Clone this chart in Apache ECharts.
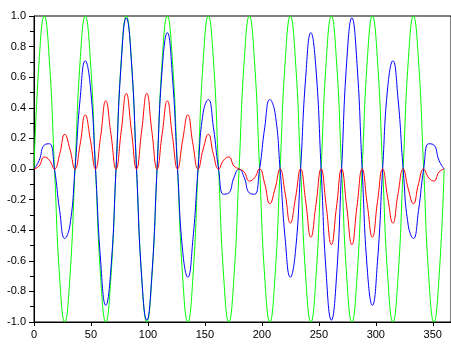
<!DOCTYPE html>
<html>
<head>
<meta charset="utf-8">
<script src="https://cdn.jsdelivr.net/npm/echarts@6/dist/echarts.min.js"></script>
<style>
html,body{margin:0;padding:0;background:#fff;}
#chart{width:451px;height:353px;}
</style>
</head>
<body>
<div id="chart"></div>
<script>
var xValues = [0,4.5,9,13.5,18,22.5,27,31.5,36,40.5,45,49.5,54,58.5,63,67.5,72,76.5,81,85.5,90,94.5,99,103.5,108,112.5,117,121.5,126,130.5,135,139.5,144,148.5,153,157.5,162,166.5,171,175.5,180,184.5,189,193.5,198,202.5,207,211.5,216,220.5,225,229.5,234,238.5,243,247.5,252,256.5,261,265.5,270,274.5,279,283.5,288,292.5,297,301.5,306,310.5,315,319.5,324,328.5,333,337.5,342,346.5,351,355.5,360];

var greenValues = [
0,0.707,1,0.707,0,-0.707,-1,-0.707,
0,0.707,1,0.707,0,-0.707,-1,-0.707,
0,0.707,1,0.707,0,-0.707,-1,-0.707,
0,0.707,1,0.707,0,-0.707,-1,-0.707,
0,0.707,1,0.707,0,-0.707,-1,-0.707,
0,0.707,1,0.707,0,-0.707,-1,-0.707,
0,0.707,1,0.707,0,-0.707,-1,-0.707,
0,0.707,1,0.707,0,-0.707,-1,-0.707,
0,0.707,1,0.707,0,-0.707,-1,-0.707,
0,0.707,1,0.707,0,-0.707,-1,-0.707,
0];

var blueValues = [
0,0.0555,0.1564,0.1650,0,-0.2706,-0.4540,-0.3694,
0,0.4592,0.7071,0.5376,0,-0.6028,-0.8910,-0.6532,
0,0.6875,0.9877,0.7048,0,-0.7048,-0.9877,-0.6875,
0,0.6532,0.8910,0.6028,0,-0.5376,-0.7071,-0.4592,
0,0.3694,0.4540,0.2706,0,-0.1650,-0.1564,-0.0555,
0,-0.0555,-0.1564,-0.1650,0,0.2706,0.4540,0.3694,
0,-0.4592,-0.7071,-0.5376,0,0.6028,0.8910,0.6532,
0,-0.6875,-0.9877,-0.7048,0,0.7048,0.9877,0.6875,
0,-0.6532,-0.8910,-0.6028,0,0.5376,0.7071,0.4592,
0,-0.3694,-0.4540,-0.2706,0,0.1650,0.1564,0.0555,
0];

var redValues = [
0,0.0196,0.0782,0.0584,0,0.0957,0.2270,0.1306,
0,0.1624,0.3536,0.1901,0,0.2132,0.4455,0.2310,
0,0.2431,0.4939,0.2492,0,0.2492,0.4939,0.2431,
0,0.2310,0.4455,0.2132,0,0.1901,0.3536,0.1624,
0,0.1306,0.2270,0.0957,0,0.0584,0.0782,0.0196,
0,-0.0196,-0.0782,-0.0584,0,-0.0957,-0.2270,-0.1306,
0,-0.1624,-0.3536,-0.1901,0,-0.2132,-0.4455,-0.2310,
0,-0.2431,-0.4939,-0.2492,0,-0.2492,-0.4939,-0.2431,
0,-0.2310,-0.4455,-0.2132,0,-0.1901,-0.3536,-0.1624,
0,-0.1306,-0.2270,-0.0957,0,-0.0584,-0.0782,-0.0196,
0];

function pairs(ys){ return xValues.map(function(x,i){ return [x, ys[i]]; }); }

var chart = echarts.init(document.getElementById('chart'), null, {renderer:'canvas'});
var labelFont = {color:'#000', fontFamily:'Liberation Sans, Arial, sans-serif', fontSize:11};
chart.setOption({
  animation:false,
  backgroundColor:'#fff',
  grid:{left:34, right:-2, top:16, bottom:31, containLabel:false, show:true, borderColor:'#000', borderWidth:1, backgroundColor:'transparent'},
  xAxis:{
    type:'value', min:0, max:366, interval:50,
    axisLine:{show:true, onZero:false, lineStyle:{color:'#000', width:1}},
    axisTick:{show:true, inside:false, length:4, lineStyle:{color:'#000'}},
    minorTick:{show:false},
    splitLine:{show:false},
    axisLabel:Object.assign({margin:7, showMaxLabel:false}, labelFont)
  },
  yAxis:{
    type:'value', min:-1, max:1, interval:0.2,
    axisLine:{show:true, onZero:false, lineStyle:{color:'#000', width:1}},
    axisTick:{show:true, length:5, lineStyle:{color:'#000'}},
    minorTick:{show:true, splitNumber:2, length:4, lineStyle:{color:'#000'}},
    splitLine:{show:false},
    axisLabel:Object.assign({margin:8, formatter:function(v){ return v.toFixed(1); }}, labelFont)
  },
  series:[
    {type:'line', data:pairs(greenValues), smooth:true, showSymbol:false, symbol:'none', lineStyle:{color:'#00ff00', width:1}, itemStyle:{color:'#00ff00'}},
    {type:'line', data:pairs(blueValues), smooth:true, showSymbol:false, symbol:'none', lineStyle:{color:'#0000ff', width:1}, itemStyle:{color:'#0000ff'}},
    {type:'line', data:pairs(redValues), smooth:true, showSymbol:false, symbol:'none', lineStyle:{color:'#ff0000', width:1}, itemStyle:{color:'#ff0000'}}
  ]
});
</script>
</body>
</html>
